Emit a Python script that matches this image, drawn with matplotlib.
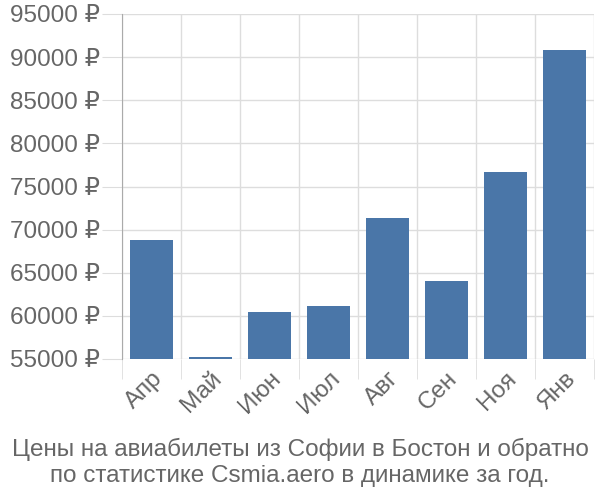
import matplotlib.pyplot as plt
import numpy as np

months = ["Апр", "Май", "Июн", "Июл", "Авг", "Сен", "Ноя", "Янв"]
prices = [68800, 55200, 60450, 61150, 71350, 64050, 76700, 90850]
y_ticks = [55000, 60000, 65000, 70000, 75000, 80000, 85000, 90000, 95000]

plt.rcParams['font.family'] = ['Liberation Sans', 'DejaVu Sans']

fig = plt.figure(figsize=(6, 5), dpi=100)
ax = fig.add_axes([0.203, 0.282, 0.787, 0.69])

x = np.arange(len(months))
ax.bar(x, prices, width=0.72, bottom=0, color="#4a76a8", zorder=3)

ax.set_xlim(-0.5, len(months) - 0.5)
ax.set_ylim(55000, 95000)

# horizontal grid + y labels
ax.set_yticks(y_ticks)
ax.set_yticklabels([f"{v} ₽" for v in y_ticks], fontsize=17.5, color="#666666")
ax.yaxis.grid(True, color="#dddddd", linewidth=1, zorder=0)
ax.tick_params(axis="y", length=14.5, color="#dddddd", pad=1)

# vertical grid at category boundaries
ax.set_xticks(np.arange(len(months) + 1) - 0.5, minor=True)
ax.xaxis.grid(True, which="minor", color="#dddddd", linewidth=1, zorder=0)
ax.tick_params(axis="x", which="minor", length=14.5, color="#dddddd")
ax.xaxis.get_minor_ticks()[0].tick1line.set_color("#aaaaaa")
ax.set_xticks(x)
ax.set_xticklabels(months, rotation=45, ha="right", rotation_mode="anchor",
                   fontsize=17.5, color="#666666")
ax.tick_params(axis="x", which="major", length=0, pad=6)

for s in ["top", "right", "bottom"]:
    ax.spines[s].set_visible(False)
ax.spines["left"].set_color("#aaaaaa")
ax.spines["left"].set_bounds(55000, 95000)

fig.text(0.5, 0.075, "Цены на авиабилеты из Софии в Бостон и обратно\nпо статистике Csmia.aero в динамике за год.",
         ha="center", va="center", fontsize=17.5, color="#666666", linespacing=1.2)

fig.savefig("out.png", dpi=100)
